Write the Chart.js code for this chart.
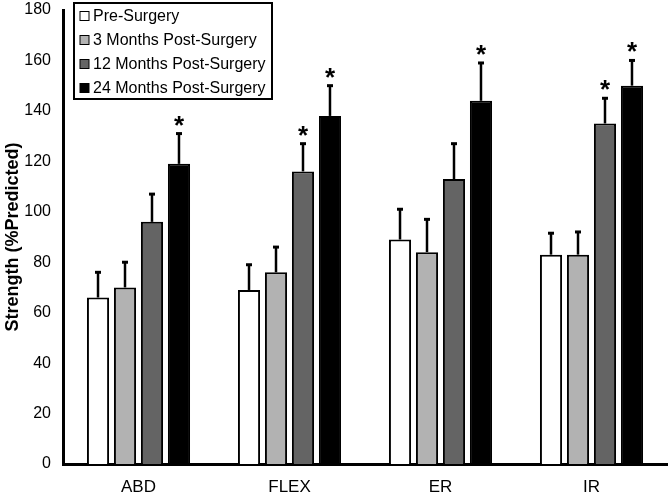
<!DOCTYPE html>
<html>
<head>
<meta charset="utf-8">
<script src="https://cdn.jsdelivr.net/npm/chart.js@4.4.1/dist/chart.umd.min.js"></script>
<style>
  html, body { margin: 0; padding: 0; background: #fff; }
  #wrap { width: 670px; height: 495px; }
</style>
</head>
<body>
<div id="wrap"><canvas id="myChart" width="670" height="495"></canvas></div>
<script>
// data
const categories = ["ABD", "FLEX", "ER", "IR"];
const seriesNames = ["Pre-Surgery", "3 Months Post-Surgery", "12 Months Post-Surgery", "24 Months Post-Surgery"];
const preSurgery = [66, 69, 89, 83];
const preSurgeryErr = [10, 10, 12, 8.5];
const months3 = [70, 76, 84, 83];
const months3Err = [10, 10, 13, 9];
const months12 = [96, 116, 113, 135];
const months12Err = [11, 11, 14, 10];
const months24 = [119, 138, 144, 150];
const months24Err = [12, 12, 15, 10];
// which bars carry a significance star
const months12Star = [false, true, false, true];
const months24Star = [true, true, true, true];
const yTicks = [0, 20, 40, 60, 80, 100, 120, 140, 160, 180];

const colors = ["#ffffff", "#b2b2b2", "#646464", "#000000"];
const values = [preSurgery, months3, months12, months24];
const errs = [preSurgeryErr, months3Err, months12Err, months24Err];
const stars = [[false, false, false, false], [false, false, false, false], months12Star, months24Star];

const FONT = "'Liberation Sans', Arial, sans-serif";

const data = {
  labels: categories,
  datasets: [],
};
for (var i = 0; i < seriesNames.length; i++) {
  data.datasets.push({
    label: seriesNames[i],
    data: values[i],
    err: errs[i],
    star: stars[i],
    backgroundColor: colors[i],
    borderColor: "#000",
    borderWidth: 2,
    borderSkipped: "bottom",
    categoryPercentage: 0.715,
    barPercentage: 0.82,
  });
}

// error bars + stars
const errorBars = {
  id: "errorBars",
  afterDatasetsDraw: (chart) => {
    const ctx = chart.ctx;
    const y = chart.scales.y;
    ctx.save();
    chart.data.datasets.forEach((ds, di) => {
      const meta = chart.getDatasetMeta(di);
      meta.data.forEach((bar, k) => {
        const top = y.getPixelForValue(ds.data[k] + ds.err[k]);
        ctx.strokeStyle = "#000";
        ctx.lineWidth = 2.5;
        ctx.beginPath();
        ctx.moveTo(bar.x, bar.y);
        ctx.lineTo(bar.x, top);
        ctx.stroke();
        ctx.lineWidth = 3;
        ctx.beginPath();
        ctx.moveTo(bar.x - 3, top);
        ctx.lineTo(bar.x + 3, top);
        ctx.stroke();
        if (ds.star[k]) {
          ctx.fillStyle = "#000";
          ctx.font = "bold 26px " + FONT;
          ctx.textAlign = "center";
          ctx.textBaseline = "alphabetic";
          ctx.fillText("*", bar.x, top);
        }
      });
    });
    ctx.restore();
  },
};

// legend box in the upper left of the plot
const boxLegend = {
  id: "boxLegend",
  afterDraw: (chart) => {
    const ctx = chart.ctx;
    const x0 = 74, y0 = 3, w = 198, h = 96;
    ctx.save();
    ctx.fillStyle = "#fff";
    ctx.fillRect(x0, y0, w, h);
    ctx.strokeStyle = "#000";
    ctx.lineWidth = 2;
    ctx.strokeRect(x0, y0, w, h);
    ctx.font = "16px " + FONT;
    ctx.textBaseline = "middle";
    ctx.textAlign = "left";
    chart.data.datasets.forEach((ds, i) => {
      const cy = y0 + 13 + i * 24;
      ctx.fillStyle = ds.backgroundColor;
      ctx.fillRect(x0 + 6, cy - 4.5, 9, 9);
      ctx.lineWidth = 1;
      ctx.strokeRect(x0 + 6, cy - 4.5, 9, 9);
      ctx.fillStyle = "#000";
      ctx.fillText(ds.label, x0 + 19, cy + 1);
    });
    ctx.restore();
  },
};

const config = {
  type: "bar",
  data: data,
  plugins: [errorBars, boxLegend],
  options: {
    responsive: false,
    animation: false,
    layout: { padding: { top: 10, right: 3, left: 2, bottom: 0 } },
    plugins: {
      legend: { display: false },
      tooltip: { enabled: false },
    },
    scales: {
      x: {
        grid: { display: false, drawTicks: false },
        border: { display: true, color: "#000", width: 3 },
        ticks: { color: "#000", font: { family: FONT, size: 17 }, padding: 13 },
        afterFit: (axis) => { axis.height = 31; },
      },
      y: {
        min: 0,
        max: 180,
        afterBuildTicks: (axis) => {
          axis.ticks = yTicks.map((v) => ({ value: v }));
        },
        grid: { display: false, drawTicks: false },
        border: { display: true, color: "#000", width: 3 },
        ticks: { color: "#000", font: { family: FONT, size: 16 }, padding: 12 },
        afterFit: (axis) => {
          axis.width = 61;
          axis.paddingTop = 0;
          axis.paddingBottom = 0;
        },
        title: {
          display: true,
          text: "Strength (%Predicted)",
          color: "#000",
          font: { family: FONT, size: 18, weight: "bold" },
          padding: { top: 0, bottom: 0 },
        },
      },
    },
  },
};
Chart.defaults.font.family = FONT;
new Chart(document.getElementById("myChart"), config);
</script>
</body>
</html>
